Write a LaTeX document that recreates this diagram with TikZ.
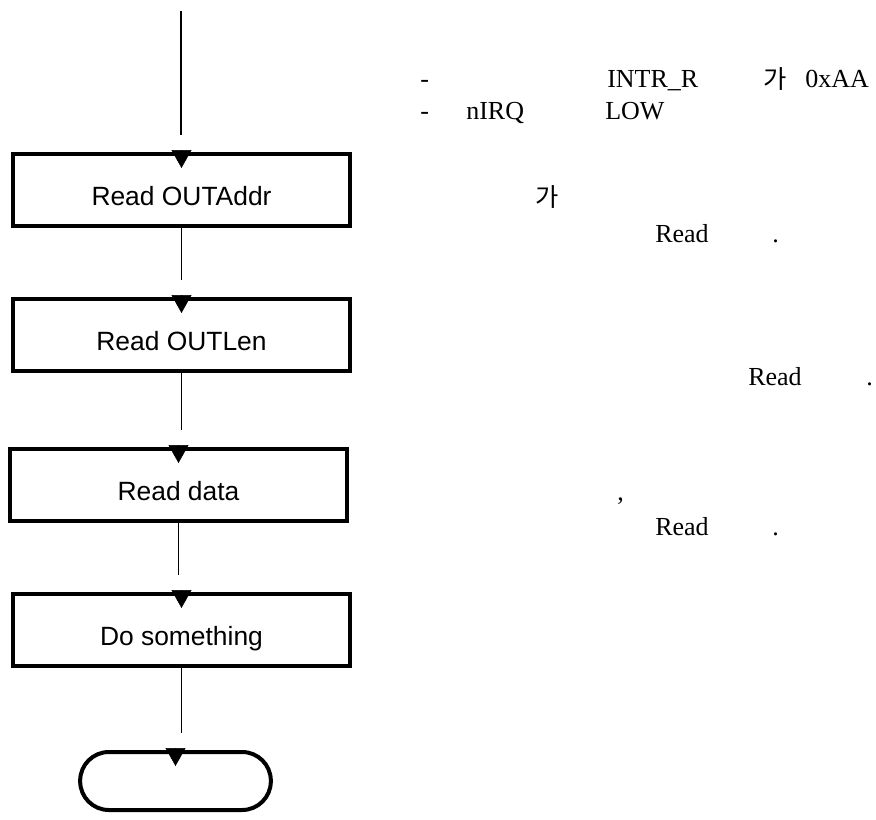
\documentclass[tikz,border=0pt]{standalone}
\usepackage{fontspec}
\setmainfont{Liberation Serif}
\setsansfont{Liberation Sans}
\newfontfamily\krfont{Noto Sans CJK KR}
\usetikzlibrary{arrows.meta, positioning}

\tikzset{
  stepbox/.style={draw, line width=3pt, minimum width=252.75pt, minimum height=54pt, text height=23pt, text depth=0pt, font=\sffamily\fontsize{19.8}{22}\selectfont},
  endbox/.style={draw, line width=3pt, rounded corners=21.5pt, minimum width=143pt, minimum height=43.5pt},
  note/.style={anchor=base west, inner sep=0pt, font=\fontsize{19.5}{22}\selectfont},
  kr/.style={font=\krfont\fontsize{19}{22}\selectfont},
  flowline/.style={line width=1pt, shorten >=12.75pt},
  flowtip/.style={-{Triangle[width=15pt,length=13.5pt]}},
}

\begin{document}
\begin{tikzpicture}[x=0.75pt,y=-0.75pt]
        \useasboundingbox (0,0) rectangle (876,819);
        \coordinate (start) at (181,11);
        \node[stepbox] (addr) at (181.5,190) {Read OUTAddr};
        \node[stepbox] (len) at (181.5,335) {Read OUTLen};
        \node[stepbox] (data) at (178.5,485) {Read data};
        \node[stepbox] (work) at (181.5,630) {Do something};
        \node[endbox] (stop) at (175.5,781) {};
        \foreach \a/\b in {start/addr, addr/len, len/data, data/work, work/stop}{
            \draw[flowline] (\a) -- (\a |- \b.north);
            \draw[flowtip] ([yshift=1.5pt]\b.north) -- ([yshift=-12pt]\b.north);
        }
        % notes on the right
        \node[note] (d1) at (420,87) {-};
        \node[note] (r1) at (607,87) {INTR\_R};
        \node[note, kr] (k1) at (763,88) {가};
        \node[note] (v1) at (805,87) {0xAA};
        \node[note] (d2) at (420,119) {-};
        \node[note] (q2) at (466,119) {nIRQ};
        \node[note] (l2) at (605,119) {LOW};
        \node[note, kr] (k3) at (535,206) {가};
        \node[note] (rd3) at (655,242) {Read};
        \node[note] (p3) at (772,242) {.};
        \node[note] (rd4) at (748,385) {Read};
        \node[note] (p4) at (866,385) {.};
        \node[note] (c5) at (617,500) {,};
        \node[note] (rd5) at (655,535) {Read};
        \node[note] (p5) at (772,535) {.};
    \end{tikzpicture}
\end{document}
